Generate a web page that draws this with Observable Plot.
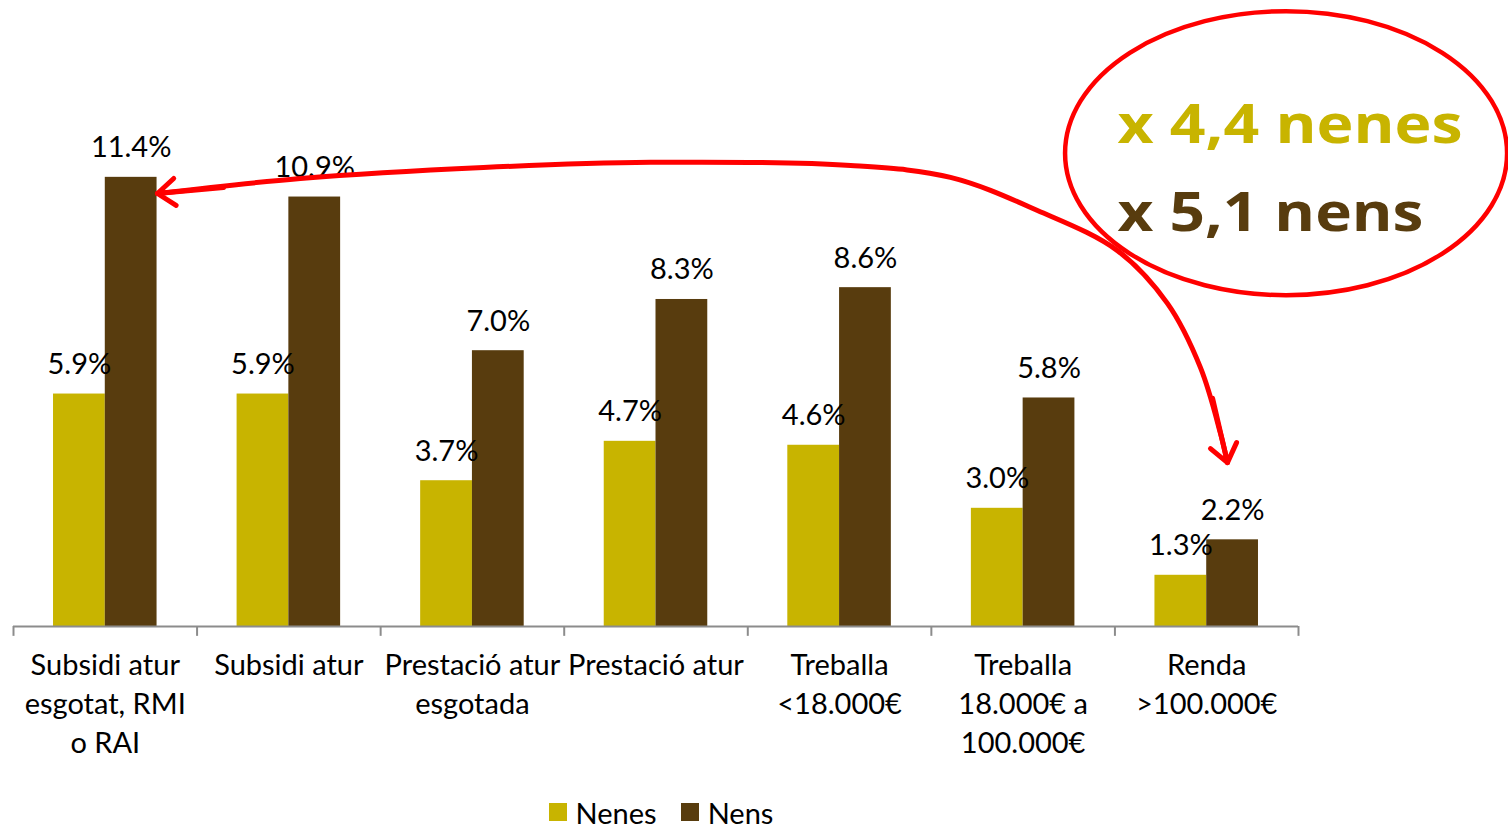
<!DOCTYPE html>
<html><head><meta charset="utf-8">
<script src="https://cdn.jsdelivr.net/npm/d3@7"></script>
<script src="https://cdn.jsdelivr.net/npm/@observablehq/plot@0.6"></script>
<style>
body{margin:0;background:#fff;font-family:Lato, sans-serif;}
#legend{width:1322px;height:44px;display:flex;justify-content:center;align-items:center;gap:24px;font-size:29px;color:#000;}
#legend .item{display:flex;align-items:center;gap:9px;}
#legend .sw{width:18px;height:18px;display:inline-block;}
</style></head><body>
<div id="chart"></div>
<div id="legend"></div>
<script>
const categories = ["Subsidi atur\nesgotat, RMI\no RAI","Subsidi atur","Prestació atur\nesgotada","Prestació atur","Treballa\n<18.000€","Treballa\n18.000€ a\n100.000€","Renda\n>100.000€"];
const nenes = [5.9,5.9,3.7,4.7,4.6,3.0,1.3];
const nens = [11.4,10.9,7.0,8.3,8.6,5.8,2.2];
const seriesNames = ["Nenes","Nens"];
const seriesColors = ["#C8B400","#583C0E"];
const ratioLabels = ["x 4,4 nenes","x 5,1 nens"];
// annotation arrow path in data units (x: category position, y: %)
const arrowX = [0.784,1.563,2.560,3.470,4.560,5.104,5.578,6.014,6.286,6.466,6.575,6.613];
const arrowY = [10.99,11.37,11.65,11.78,11.70,11.40,10.56,9.54,8.20,6.57,4.90,4.16];
// arrowhead shafts (start points, data units)
const headFromX = [1.144, 6.532];
const headFromY = [11.14, 5.79];
const ratioX = [6.014,6.014];
const ratioY = [12.28,10.05];
const ellipseCenter = {x:6.935, y:12.0};

const rows = [];
categories.forEach((c,i)=>{
  rows.push({i, cat:c, series:"Nenes", value:nenes[i]});
  rows.push({i, cat:c, series:"Nens", value:nens[i]});
});
const left = d => d.i + (d.series==="Nenes" ? 0.218 : 0.5);
const path = arrowX.map((x,k)=>({x, y:arrowY[k]}));
const n = path.length;
const heads = [
  {x1:headFromX[0], y1:headFromY[0], x2:path[0].x, y2:path[0].y},
  {x1:headFromX[1], y1:headFromY[1], x2:path[n-1].x, y2:path[n-1].y}
];
const ratio = ratioLabels.map((t,k)=>({t, x:ratioX[k], y:ratioY[k], c:seriesColors[k]}));
const ratioWidths = [345, 306];

const ellipseMark = (index, scales) => {
  const g = d3.create("svg:g");
  g.append("ellipse")
    .attr("cx", scales.x(ellipseCenter.x)).attr("cy", scales.y(ellipseCenter.y))
    .attr("rx", 221).attr("ry", 142)
    .attr("fill","none").attr("stroke","#FF0000").attr("stroke-width",4.5);
  return g.node();
};

const chart = Plot.plot({
  width:1508, height:790,
  marginLeft:13, marginRight:210, marginTop:0, marginBottom:164,
  x:{domain:[0,7], axis:null},
  y:{domain:[0, 626/39.4], axis:null},
  color:{domain:seriesNames, range:seriesColors},
  style:{fontFamily:"Lato, sans-serif", background:"#fff", overflow:"visible"},
  marks:[
    Plot.rectY(rows, {x1:left, x2:d=>left(d)+0.282, y:"value", fill:"series"}),
    Plot.ruleY([0], {stroke:"#8c8c8c", strokeWidth:2}),
    Plot.ruleX(d3.range(categories.length+1), {y1:0, y2:-0.25, stroke:"#8c8c8c", strokeWidth:2}),
    Plot.text(rows, {x:d=>left(d)+0.141, y:"value", text:d=>d.value.toFixed(1)+"%", lineAnchor:"bottom", dy:-20, fontSize:29, fill:"#000"}),
    Plot.text(categories, {x:(d,i)=>i+0.5, y:()=>0, text:d=>d, lineAnchor:"top", dy:21, lineHeight:1.345, fontSize:29, fill:"#000"}),
    ellipseMark,
    Plot.line(path, {x:"x", y:"y", curve:"catmull-rom", stroke:"#FF0000", strokeWidth:5}),
    Plot.arrow(heads, {x1:"x1", y1:"y1", x2:"x2", y2:"y2", stroke:"#FF0000", strokeWidth:5, headLength:30, headAngle:75}),
    Plot.text(ratio, {x:"x", y:"y", text:"t", fill:"c", textAnchor:"start", lineAnchor:"bottom", fontSize:53, fontWeight:"bold", fontFamily:"'Open Sans', sans-serif"})
  ]
});
document.getElementById("chart").appendChild(chart);
// stretch the annotation texts horizontally to match the original's proportions
d3.select(chart).selectAll("text").each(function(){
  const k = ratioLabels.indexOf(this.textContent);
  if (k >= 0) { this.setAttribute("textLength", ratioWidths[k]); this.setAttribute("lengthAdjust","spacingAndGlyphs"); }
});

const legend = document.getElementById("legend");
seriesNames.forEach((s,k)=>{
  const it = document.createElement("span"); it.className="item";
  const sw = document.createElement("span"); sw.className="sw"; sw.style.background=seriesColors[k];
  const tx = document.createElement("span"); tx.textContent=s;
  it.appendChild(sw); it.appendChild(tx); legend.appendChild(it);
});
</script>
</body></html>
